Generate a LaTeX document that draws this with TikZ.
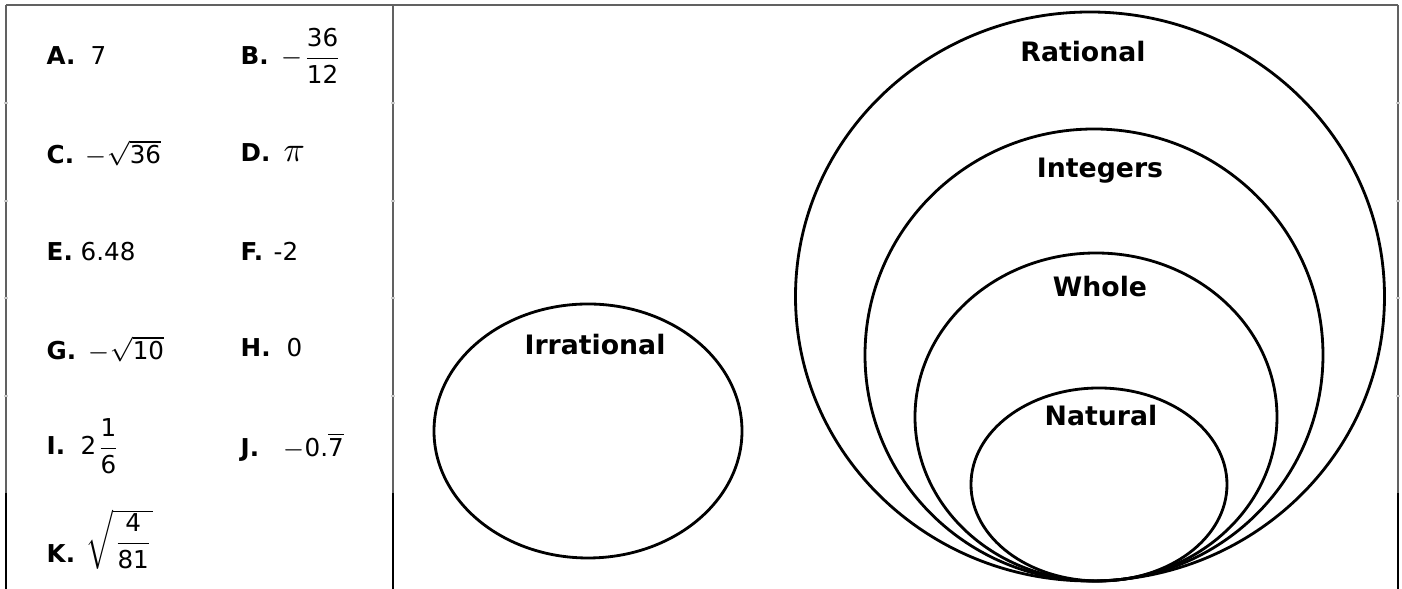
\documentclass[tikz,border=0pt]{standalone}
\usepackage{amsmath}
\usepackage{fontspec}
\setmainfont{DejaVu Sans}

\tikzset{
  grid line/.style={draw=black!62, line width=0.55pt},
  dark line/.style={draw=black, line width=0.6pt},
  row tick/.style={draw=black!20, line width=0.35pt},
  set line/.style={draw=black, line width=0.8pt},
  set name/.style={anchor=base, inner sep=0pt, font=\fontsize{7.6}{9}\selectfont\bfseries},
  item key/.style={anchor=base west, inner sep=0pt, font=\fontsize{7}{8.4}\selectfont\bfseries},
  item val/.style={anchor=base west, inner sep=0pt, font=\fontsize{7}{8.4}\selectfont},
}

\begin{document}
\begin{tikzpicture}[x=0.01cm, y=-0.01cm]
    \useasboundingbox (0,0) rectangle (1402,589);

    % table frame
    \draw[grid line] (6,5) -- (1398,5);
    \draw[grid line] (6,5) -- (6,589);
    \draw[grid line] (393,5) -- (393,589);
    \draw[grid line] (1398,5) -- (1398,589);
    \draw[dark line] (6,493) -- (6,589);
    \draw[dark line] (393,493) -- (393,589);
    \draw[dark line] (1398,493) -- (1398,589);
    \foreach \y in {103,201,298,396} {
        \draw[row tick] (4,\y) -- (8,\y);
        \draw[row tick] (391,\y) -- (395,\y);
        \draw[row tick] (1396,\y) -- (1400,\y);
    }

    % the numbers to sort
    \node[item key] (keyA) at (46,65) {A.};
    \node[item val] (valA) at (90,65) {7};
    \node[item key] (keyB) at (240,65) {B.};
    \node[item val] (valB) at (280,65) {$-\dfrac{\mbox{36}}{\mbox{12}}$};
    \node[item key] (keyC) at (46,164) {C.};
    \node[item val] (valC) at (84,164) {$-\sqrt{\mbox{36}}$};
    \node[item key] (keyD) at (240,162) {D.};
    \node[item val] (valD) at (283,162) {\fontsize{10}{12}\selectfont$\pi$};
    \node[item key] (keyE) at (46,261) {E.};
    \node[item val] (valE) at (80,261) {6.48};
    \node[item key] (keyF) at (240,261) {F.};
    \node[item val] (valF) at (273,261) {-2};
    \node[item key] (keyG) at (46,360) {G.};
    \node[item val] (valG) at (87,360) {$-\sqrt{\mbox{10}}$};
    \node[item key] (keyH) at (240,357) {H.};
    \node[item val] (valH) at (286,357) {0};
    \node[item key] (keyI) at (46,455) {I.};
    \node[item val] (valI) at (80,455) {$\mbox{2}\dfrac{\mbox{1}}{\mbox{6}}$};
    \node[item key] (keyJ) at (240,457) {J.};
    \node[item val] (valJ) at (282,457) {$-\mbox{0.}\overline{\mbox{7}}$};
    \node[item key] (keyK) at (46,563) {K.};
    \node[item val] (valK) at (85,550) {$\sqrt{\dfrac{\mbox{4}}{\mbox{81}}}$};

    % number sets
    \draw[set line] (588,431) ellipse [x radius=154, y radius=127];
    \draw[set line] (1090,296.5) ellipse [x radius=294.5, y radius=284.5];
    \draw[set line] (1094,355) ellipse [x radius=229, y radius=226];
    \draw[set line] (1096,417) ellipse [x radius=181, y radius=164];
    \draw[set line] (1099,484.5) ellipse [x radius=128, y radius=96.5];

    \node[set name] (irr) at (595,355) {Irrational};
    \node[set name] (rat) at (1083,62) {Rational};
    \node[set name] (int) at (1100,178) {Integers};
    \node[set name] (whole) at (1100,297) {Whole};
    \node[set name] (nat) at (1101,426) {Natural};
\end{tikzpicture}
\end{document}
